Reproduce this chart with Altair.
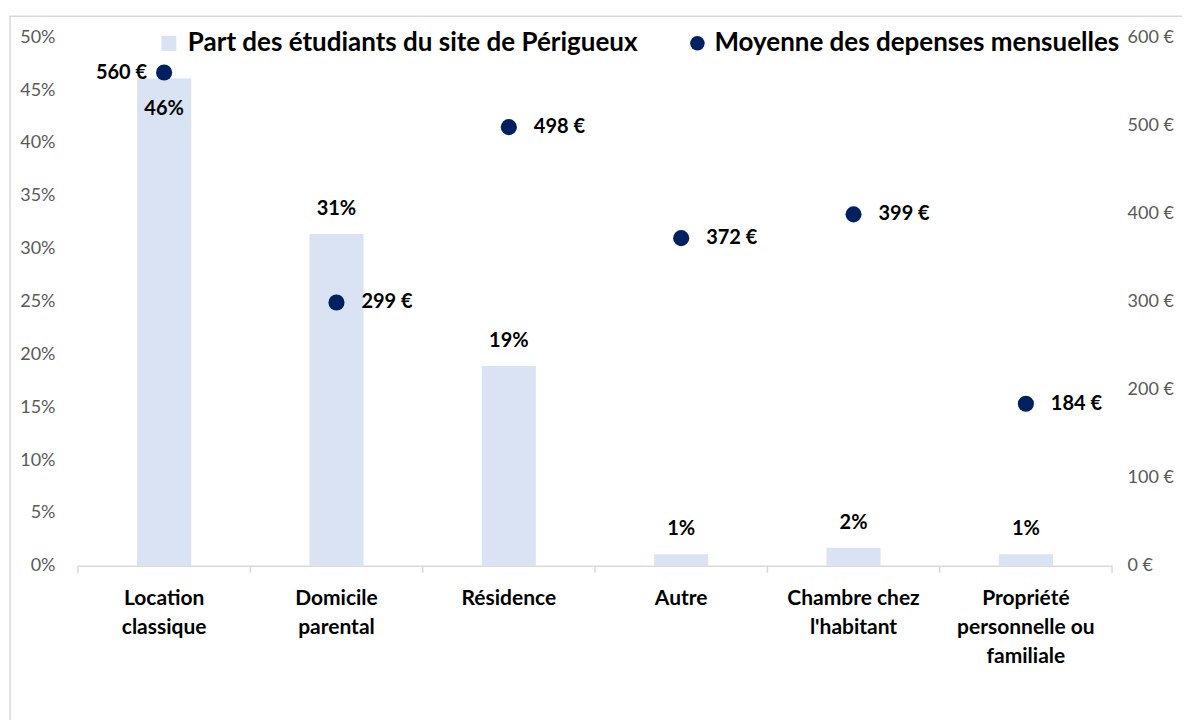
import altair as alt
import pandas as pd

categories = ["Location classique", "Domicile parental", "Résidence", "Autre",
              "Chambre chez l'habitant", "Propriété personnelle ou familiale"]
wrapped = [["Location", "classique"], ["Domicile", "parental"], ["Résidence"], ["Autre"],
           ["Chambre chez", "l'habitant"], ["Propriété", "personnelle ou", "familiale"]]
share = [0.461, 0.314, 0.189, 0.011, 0.017, 0.011]
spend = [560, 299, 498, 372, 399, 184]
pct_ticks = [0, 0.05, 0.10, 0.15, 0.20, 0.25, 0.30, 0.35, 0.40, 0.45, 0.50]
eur_ticks = [0, 100, 200, 300, 400, 500, 600]
serie_bar = "Part des étudiants du site de Périgueux"
serie_pt = "Moyenne des depenses mensuelles"

df = pd.DataFrame({"cat": categories, "share": share, "spend": spend,
                   "s1": serie_bar, "s2": serie_pt, "idx": list(range(len(categories)))})

FONT = "Lato"
W, H = 1035, 529
GRAY = "#595959"
LEG_FS = 26
label_map = "{" + ",".join("'" + c.replace("'", "\\'") + "':[" + ",".join("'" + l.replace("'", "\\'") + "'" for l in w) + "]" for c, w in zip(categories, wrapped)) + "}"

xscale = alt.Scale(domain=categories, paddingInner=0, paddingOuter=0)
xenc = alt.X("cat:N", scale=xscale, sort=categories, title=None,
             axis=alt.Axis(labelExpr=label_map + "[datum.label]", labelAngle=0, ticks=False, tickSize=0,
                           domain=True, domainColor="#D9D9D9", domainWidth=1.5,
                           labelFont=FONT, labelFontSize=21, labelFontWeight="bold", labelColor="black",
                           labelPadding=22, labelLineHeight=29, labelLimit=0))

yl = alt.Y("share:Q", scale=alt.Scale(domain=[0, 0.5]), title=None,
           axis=alt.Axis(values=pct_ticks, format=".0%", grid=False, domain=False, ticks=False,
                         labelFont=FONT, labelFontSize=18, labelColor=GRAY, labelPadding=23))

base = alt.Chart(df)

bars = base.mark_bar(width={"band": 0.314}).encode(
    x=xenc, y=yl,
    color=alt.Color("s1:N", scale=alt.Scale(domain=[serie_bar], range=["#DAE3F3"]),
                    legend=alt.Legend(title=None, orient="none", legendX=78, legendY=-7,
                                      symbolType="square", symbolSize=225, labelOffset=6,
                                      labelFont=FONT, labelFontSize=LEG_FS, labelFontWeight="bold",
                                      labelColor="black", labelLimit=1000, padding=0)))

bar_txt = base.transform_filter("datum.idx > 0").mark_text(
    font=FONT, fontSize=20, fontWeight="bold", color="black", baseline="alphabetic", dy=-19
).encode(x=alt.X("cat:N", scale=xscale, sort=categories), y=alt.Y("share:Q"),
         text=alt.Text("share:Q", format=".0%"))
bar_txt0 = base.transform_filter("datum.idx == 0").mark_text(
    font=FONT, fontSize=20, fontWeight="bold", color="black", baseline="alphabetic", dy=37
).encode(x=alt.X("cat:N", scale=xscale, sort=categories), y=alt.Y("share:Q"),
         text=alt.Text("share:Q", format=".0%"))

ticks = base.mark_rule(color="#D9D9D9", strokeWidth=1.5).encode(
    x=alt.X("cat:N", scale=xscale, sort=categories, bandPosition=0),
    y=alt.value(H), y2=alt.value(H + 7))
tick_end = base.transform_filter("datum.idx == 0").mark_rule(color="#D9D9D9", strokeWidth=1.5).encode(
    x=alt.value(W), y=alt.value(H), y2=alt.value(H + 7))

left = alt.layer(bars, bar_txt, bar_txt0, ticks, tick_end)

yr = alt.Y("spend:Q", scale=alt.Scale(domain=[0, 600]), title=None,
           axis=alt.Axis(orient="right", values=eur_ticks, labelExpr="datum.value + ' €'", grid=False,
                         domain=False, ticks=False, labelFont=FONT, labelFontSize=18, labelColor=GRAY,
                         labelPadding=15))

pts = base.mark_circle(size=260, opacity=1).encode(
    x=alt.X("cat:N", scale=xscale, sort=categories), y=yr,
    color=alt.Color("s2:N", scale=alt.Scale(domain=[serie_pt], range=["#002060"]),
                    legend=alt.Legend(title=None, orient="none", legendX=607, legendY=-7,
                                      symbolType="circle", symbolSize=210, labelOffset=4,
                                      labelFont=FONT, labelFontSize=LEG_FS, labelFontWeight="bold",
                                      labelColor="black", labelLimit=1000, padding=0)))
pt_txt = base.transform_filter("datum.idx > 0").mark_text(
    font=FONT, fontSize=20, fontWeight="bold", color="black", align="left", baseline="middle", dx=25
).encode(x=alt.X("cat:N", scale=xscale, sort=categories), y=alt.Y("spend:Q"),
         text=alt.Text("label:N")).transform_calculate(label="datum.spend + ' €'")
pt_txt0 = base.transform_filter("datum.idx == 0").mark_text(
    font=FONT, fontSize=20, fontWeight="bold", color="black", align="right", baseline="middle", dx=-17
).encode(x=alt.X("cat:N", scale=xscale, sort=categories), y=alt.Y("spend:Q"),
         text=alt.Text("label:N")).transform_calculate(label="datum.spend + ' €'")

frame = base.transform_filter("datum.idx == 0").mark_rect(
    fill="transparent", stroke="#D9D9D9", strokeWidth=1.5).encode(
    x=alt.value(-68), x2=alt.value(1200), y=alt.value(-21), y2=alt.value(720))

right = alt.layer(pts, pt_txt, pt_txt0)

chart = alt.layer(frame, left, right).resolve_scale(y="independent", color="independent").properties(
    width=W, height=H,
    background="white",
    autosize=alt.AutoSizeParams(type="none"),
    padding={"left": 70, "top": 29, "right": 70, "bottom": 160},
).configure_view(stroke=None).configure_legend(
    labelFont=FONT, labelFontSize=LEG_FS, labelFontWeight="bold", labelColor="black", labelLimit=1000,
    padding=0, offset=0
)

chart.save("out.html", embed_options={"renderer": "svg", "actions": False})
